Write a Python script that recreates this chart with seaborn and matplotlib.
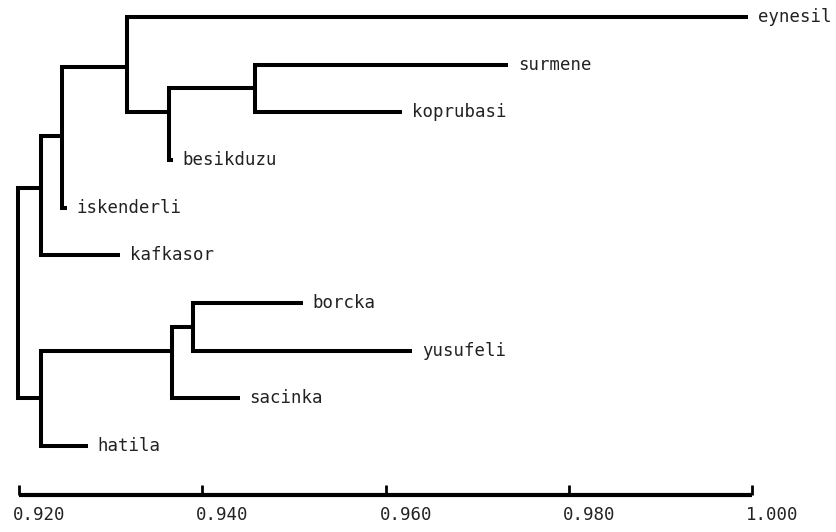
import numpy as np
import pandas as pd
import matplotlib
matplotlib.use("Agg")
import matplotlib.pyplot as plt
import matplotlib.transforms as mtransforms
import seaborn as sns

# ---- data ----
leaf_names = ["eynesil", "surmene", "koprubasi", "besikduzu", "iskenderli",
              "kafkasor", "borcka", "yusufeli", "sacinka", "hatila"]
leaf_height = [0.9996, 0.9734, 0.9618, 0.9368, 0.9252,
               0.9310, 0.9510, 0.9629, 0.9441, 0.9275]

node_names = ["E", "D", "C", "B", "A", "H", "G", "F", "root"]
node_height = [0.9458, 0.9364, 0.9318, 0.9247, 0.9224,
               0.9390, 0.9367, 0.9224, 0.9199]
node_child1 = ["surmene", "E", "eynesil", "C", "B", "borcka", "H", "G", "A"]
node_child2 = ["koprubasi", "besikduzu", "D", "iskenderli", "kafkasor",
               "yusufeli", "sacinka", "hatila", "F"]
node_row = [1.5, 2.0, 1.05, 2.5, 3.58, 6.5, 7.0, 8.0, 5.8]

tick_values = [0.920, 0.940, 0.960, 0.980, 1.000]
tick_labels = ["0.920", "0.940", "0.960", "0.980", "1.000"]

# ---- build segments ----
pos = {}
for i, (n, h) in enumerate(zip(leaf_names, leaf_height)):
    pos[n] = (h, float(i))
for n, h, r in zip(node_names, node_height, node_row):
    pos[n] = (h, r)

rows = []
for k, (n, c1, c2) in enumerate(zip(node_names, node_child1, node_child2)):
    px = pos[n][0]
    x1, y1 = pos[c1]
    x2, y2 = pos[c2]
    pts = [(x1, y1), (px, y1), (px, y2), (x2, y2)]
    for j, (x, y) in enumerate(pts):
        rows.append({"seg": k, "order": j, "x": x, "y": y})
df = pd.DataFrame(rows)

# ---- plot ----
sns.set_style("white")
plt.rcParams["font.family"] = ["DejaVu Sans Mono", "DejaVu Sans"]

fig = plt.figure(figsize=(8.36, 5.32), dpi=100)
ax = fig.add_axes([19 / 836, 37 / 532, (752 - 19) / 836, 495 / 532])

sns.lineplot(data=df, x="x", y="y", units="seg", estimator=None, sort=False,
             color="black", linewidth=2.9, legend=False, ax=ax,
             solid_joinstyle="miter", solid_capstyle="butt", clip_on=False)

for n, h, i in zip(leaf_names, leaf_height, range(len(leaf_names))):
    ax.annotate(n, (h, i), xytext=(7, 0), textcoords="offset points",
                va="center", ha="left", fontsize=12.5, color="#222222",
                annotation_clip=False)

ax.set_xlim(0.920, 1.000)
ax.set_ylim(10.03, -0.357)
ax.set_xlabel("")
ax.set_ylabel("")
ax.set_yticks([])
ax.set_xticks(tick_values)
ax.set_xticklabels(tick_labels, fontsize=12.5, color="#222222")
for s in ["left", "top", "right"]:
    ax.spines[s].set_visible(False)
ax.spines["bottom"].set_linewidth(3)
ax.spines["bottom"].set_color("black")
ax.spines["bottom"].set_capstyle("butt")
ax.tick_params(axis="x", which="major", bottom=True, direction="in",
               length=7, width=2, color="black", pad=8)

offset = mtransforms.ScaledTranslation(-6 / 100, 0, fig.dpi_scale_trans)
for lab in ax.get_xticklabels():
    lab.set_horizontalalignment("left")
    lab.set_transform(lab.get_transform() + offset)

fig.savefig("out.png", dpi=100)
